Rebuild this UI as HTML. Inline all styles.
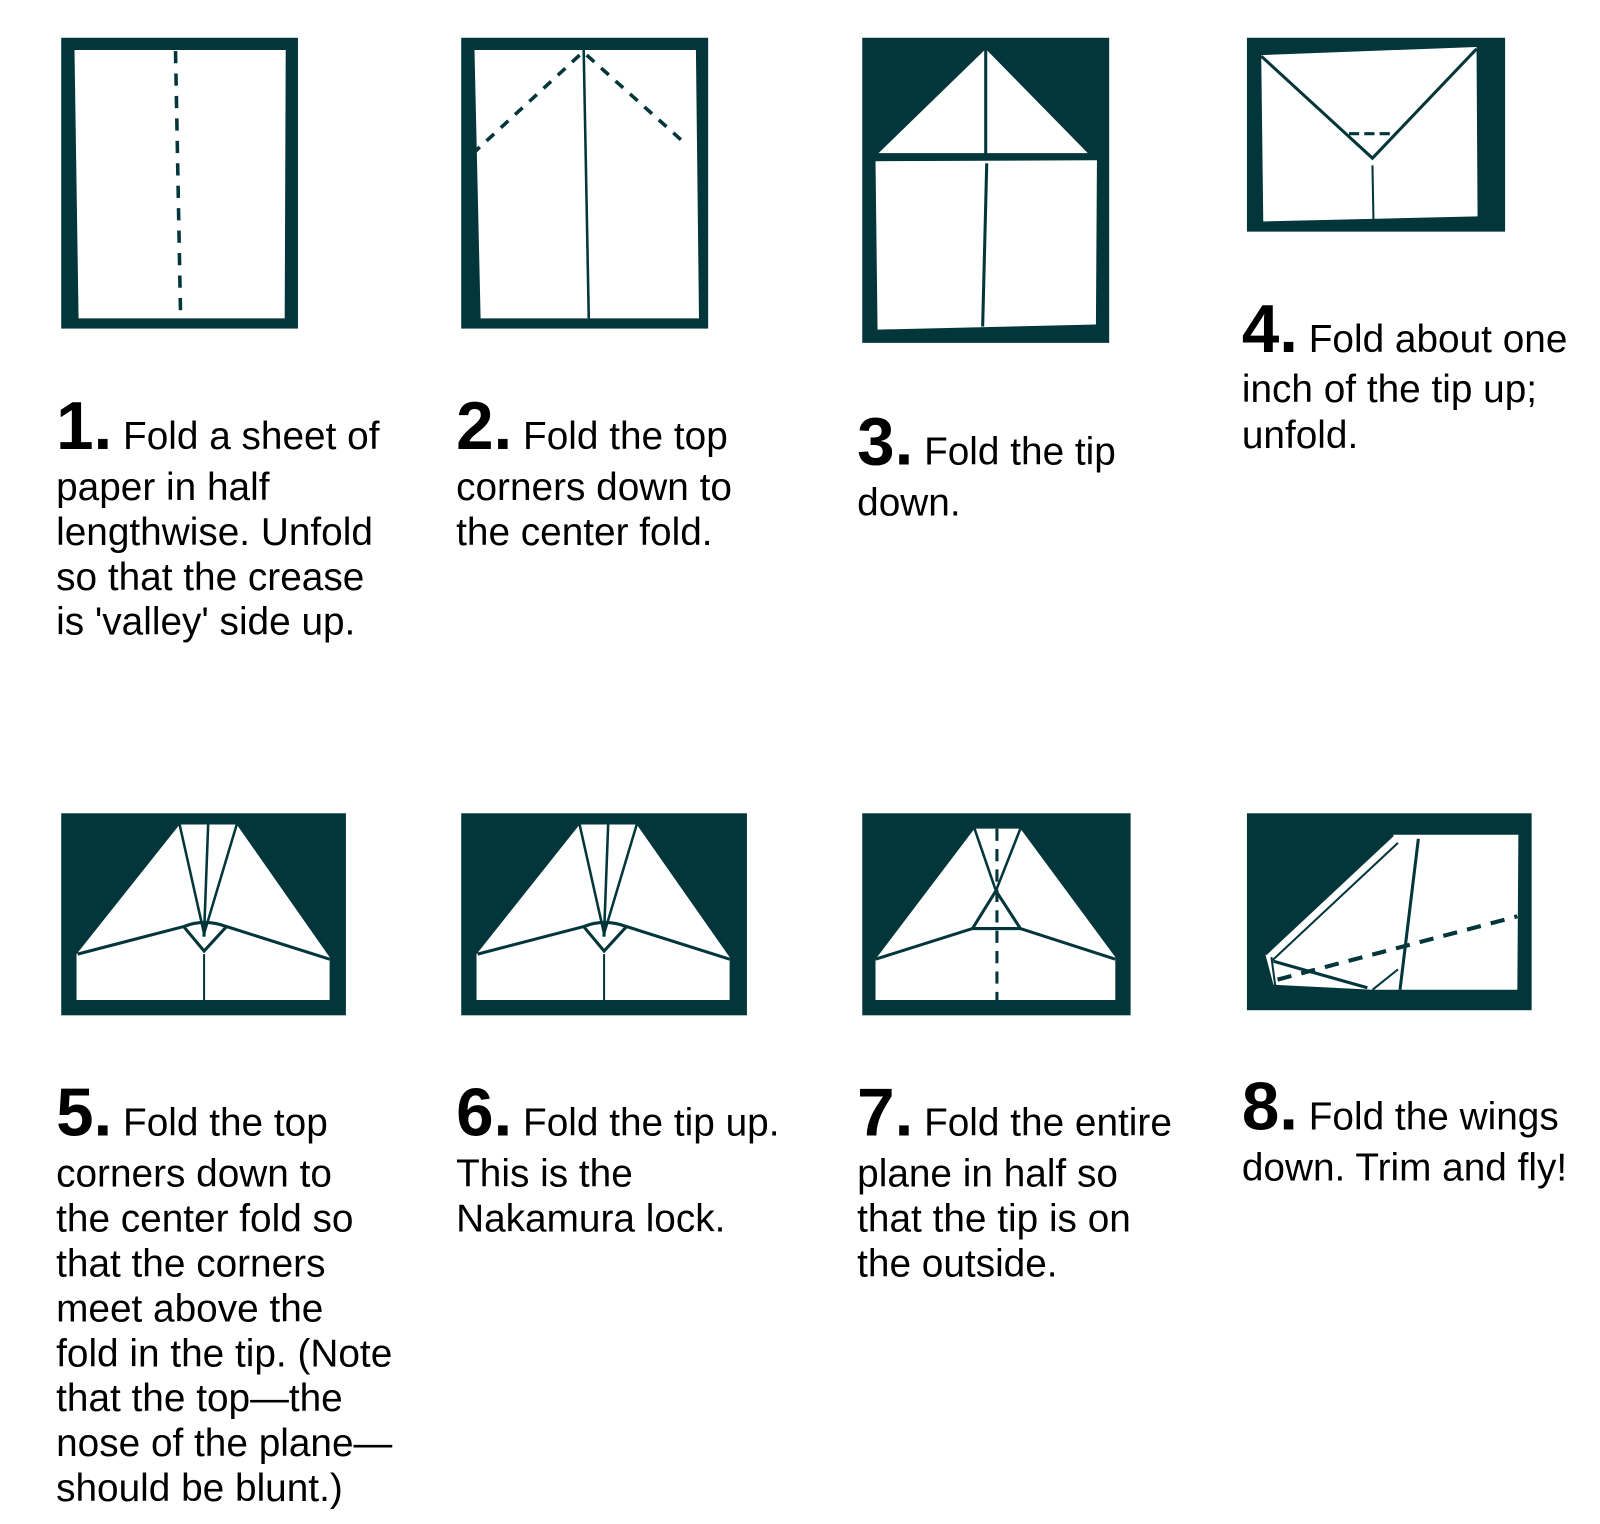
<!DOCTYPE html>
<html><head><meta charset="utf-8"><style>
html,body{margin:0;padding:0;background:#fff;}
svg{display:block;}
text{font-family:"Liberation Sans",Arial,sans-serif;fill:#000;font-size:38px;}
.n{font-weight:bold;font-size:66px;}
</style></head><body>
<svg width="1600" height="1524" viewBox="0 0 1568 1493.5" xmlns="http://www.w3.org/2000/svg">
<g fill="#03363b">
<rect x="60" y="37" width="232" height="285"/>
<rect x="452" y="37" width="242" height="285"/>
<rect x="845" y="37" width="242" height="299"/>
<rect x="1222" y="37" width="253" height="190"/>
<rect x="60" y="797" width="279" height="198"/>
<rect x="452" y="797" width="280" height="198"/>
<rect x="845" y="797" width="263" height="198"/>
<rect x="1222" y="797" width="279" height="193"/>
</g>
<g fill="#fff">
<polygon points="73,49 280,49 279,312 77,312"/>
<polygon points="465,49 682,49 685,312 471,312"/>
<polygon points="861,150 966,48 1066,150"/>
<polygon points="858,158 1075,157 1074,318 860,323"/>
<polygon points="1236,54 1447,46 1448,212 1238,217"/>
<polygon points="176,808 232,808 323,938 323,980 75,980 75,935"/>
<polygon points="568,808 624,808 715,938 715,980 467,980 467,935"/>
<polygon points="955,812 1000,812 1093,938 1093,980 858,980 858,940"/>
<polygon points="1240,935 1365,818 1488,818 1487,970 1345,970 1248,965"/>
</g>
<g stroke="#03363b" fill="none" stroke-width="3">
<line x1="172" y1="50" x2="177" y2="312" stroke-dasharray="12,10" stroke-width="3.5"/>
<line x1="572" y1="48" x2="577" y2="312" stroke-width="2.5"/>
<line x1="568" y1="54" x2="466" y2="148" stroke-dasharray="10,9" stroke-width="3.5"/>
<line x1="575" y1="54" x2="673" y2="142" stroke-dasharray="10,9" stroke-width="3.5"/>
<line x1="966" y1="48" x2="966" y2="152"/>
<line x1="858" y1="153" x2="1073" y2="153" stroke-dasharray="10,6" stroke-width="4"/>
<line x1="967" y1="160" x2="963" y2="320"/>
<polyline points="1236,55 1345,155 1447,48"/>
<line x1="1322" y1="131" x2="1368" y2="131" stroke-dasharray="10,5"/>
<line x1="1345" y1="162" x2="1346" y2="216" stroke-width="2"/>
<g id="p5">
<line x1="176" y1="808" x2="200" y2="915" stroke-width="2.5"/>
<line x1="232" y1="808" x2="200" y2="915" stroke-width="2.5"/>
<line x1="204" y1="808" x2="200" y2="915" stroke-width="2.5"/>
<polyline points="76,935 180,908 200,932 222,908 323,940"/>
<path d="M180,908 Q200,900 222,908"/>
<line x1="200" y1="905" x2="200" y2="918"/>
<line x1="200" y1="935" x2="200" y2="980" stroke-width="2"/>
</g>
<use href="#p5" x="392" y="0"/>
<line x1="955" y1="812" x2="976" y2="873" stroke-width="2.5"/>
<line x1="1000" y1="812" x2="976" y2="873" stroke-width="2.5"/>
<polygon points="976,873 953,910 1000,910"/>
<line x1="858" y1="940" x2="953" y2="910"/>
<line x1="1000" y1="910" x2="1093" y2="940"/>
<line x1="977" y1="812" x2="977" y2="980" stroke-dasharray="12,8"/>
<line x1="1240" y1="935" x2="1365" y2="818"/>
<line x1="1247" y1="941" x2="1370" y2="826" stroke-width="2"/>
<line x1="1372" y1="970" x2="1390" y2="822"/>
<line x1="1248" y1="942" x2="1340" y2="968"/>
<line x1="1345" y1="970" x2="1370" y2="950" stroke-width="2"/>
<line x1="1246" y1="938" x2="1250" y2="968" stroke-width="2"/>
<line x1="1252" y1="960" x2="1487" y2="898" stroke-dasharray="14,10" stroke-width="4"/>
</g>
<text x="55" y="440"><tspan class="n">1.</tspan> Fold a sheet of</text>
<text x="55" y="490">paper in half</text>
<text x="55" y="534">lengthwise. Unfold</text>
<text x="55" y="578">so that the crease</text>
<text x="55" y="622">is 'valley' side up.</text>
<text x="447" y="440"><tspan class="n">2.</tspan> Fold the top</text>
<text x="447" y="490">corners down to</text>
<text x="447" y="534">the center fold.</text>
<text x="840" y="455"><tspan class="n">3.</tspan> Fold the tip</text>
<text x="840" y="505">down.</text>
<text x="1217" y="345"><tspan class="n">4.</tspan> Fold about one</text>
<text x="1217" y="394">inch of the tip up;</text>
<text x="1217" y="439">unfold.</text>
<text x="55" y="1113"><tspan class="n">5.</tspan> Fold the top</text>
<text x="55" y="1163">corners down to</text>
<text x="55" y="1207">the center fold so</text>
<text x="55" y="1251">that the corners</text>
<text x="55" y="1295">meet above the</text>
<text x="55" y="1339">fold in the tip. (Note</text>
<text x="55" y="1383">that the top—the</text>
<text x="55" y="1427">nose of the plane—</text>
<text x="55" y="1471">should be blunt.)</text>
<text x="447" y="1113"><tspan class="n">6.</tspan> Fold the tip up.</text>
<text x="447" y="1163">This is the</text>
<text x="447" y="1207">Nakamura lock.</text>
<text x="840" y="1113"><tspan class="n">7.</tspan> Fold the entire</text>
<text x="840" y="1163">plane in half so</text>
<text x="840" y="1207">that the tip is on</text>
<text x="840" y="1251">the outside.</text>
<text x="1217" y="1107"><tspan class="n">8.</tspan> Fold the wings</text>
<text x="1217" y="1157">down. Trim and fly!</text>
</svg>
</body></html>
